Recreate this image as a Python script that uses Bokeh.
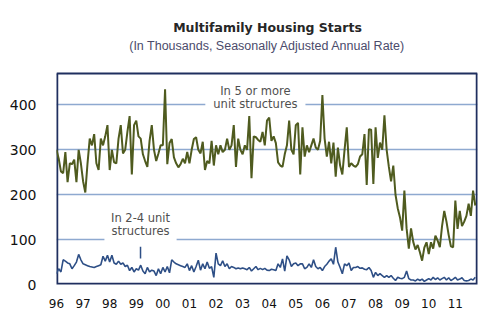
from bokeh.plotting import figure
from bokeh.models import Label, FixedTicker, Range1d, ColumnDataSource
from bokeh.embed import file_html
from bokeh.resources import INLINE

start_year = 1996
five_plus = [
    300, 280, 252, 248, 295, 228, 270, 268, 278, 228, 300, 270,   # 1996
    230, 205, 270, 325, 310, 335, 270, 255, 325, 310, 330, 355,   # 1997
    255, 300, 272, 270, 325, 355, 292, 300, 340, 375, 245, 355,   # 1998
    365, 330, 325, 290, 275, 262, 320, 355, 300, 275, 292, 310,   # 1999
    310, 435, 268, 315, 324, 283, 270, 261, 268, 280, 270, 295,   # 2000
    270, 300, 324, 328, 300, 292, 318, 255, 275, 270, 320, 265,   # 2001
    310, 290, 310, 295, 300, 325, 300, 310, 355, 262, 325, 300,   # 2002
    290, 310, 300, 375, 237, 330, 328, 322, 318, 340, 310, 365,   # 2003
    372, 320, 330, 315, 272, 265, 262, 290, 310, 365, 300, 290,   # 2004
    355, 360, 245, 350, 285, 310, 295, 310, 325, 305, 300, 320,   # 2005
    422, 325, 285, 318, 270, 316, 240, 305, 265, 245, 300, 350,   # 2006
    262, 270, 265, 262, 268, 285, 290, 335, 222, 346, 345, 224,   # 2007
    350, 282, 316, 300, 377, 300, 262, 230, 265, 200, 170, 150,   # 2008
    120, 209, 125, 80, 125, 95, 78, 88, 72, 53, 82, 94,           # 2009
    68, 94, 80, 109, 98, 83, 130, 164, 140, 110, 85, 83,          # 2010
    187, 124, 164, 130, 140, 153, 180, 153, 209, 176,             # 2011
]
two_four = [
    24, 35, 28, 55, 52, 48, 46, 35, 42, 50, 67, 55,
    46, 44, 42, 40, 39, 38, 40, 42, 44, 63, 52, 65,
    50, 65, 48, 45, 52, 45, 48, 40, 43, 31, 38, 28,
    35, 32, 43, 30, 24, 38, 28, 32, 30, 20, 35, 24,
    38, 28, 40, 26, 55, 50, 46, 44, 42, 40, 38, 46,
    31, 42, 28, 40, 54, 32, 46, 35, 50, 36, 40, 16,
    70, 46, 42, 53, 40, 46, 35, 40, 38, 35, 37, 35,
    37, 35, 33, 38, 30, 35, 40, 33, 36, 33, 36, 32,
    31, 34, 33, 31, 46, 38, 57, 30, 64, 55, 40, 46,
    48, 42, 46, 46, 35, 38, 46, 38, 55, 40, 35, 38,
    31, 40, 45, 52, 57, 45, 83, 50, 38, 24, 46, 42,
    48, 31, 38, 38, 40, 36, 37, 34, 33, 38, 31, 16,
    27, 20, 24, 20, 16, 20, 16, 20, 14, 9, 16, 14,
    13, 16, 30, 13, 10, 10, 8, 12, 9, 12, 7, 10,
    13, 10, 16, 11, 15, 10, 13, 16, 10, 15, 9, 12,
    16, 10, 12, 15, 9, 8, 9, 12, 10, 16,
]
year_ticks = list(range(1996, 2012))
year_labels = ["96", "97", "98", "99", "00", "01", "02", "03", "04", "05",
               "06", "07", "08", "09", "10", "11"]
y_ticks = [0, 100, 200, 300, 400]
title = "Multifamily Housing Starts"
subtitle = "(In Thousands, Seasonally Adjusted Annual Rate)"

x = [start_year + i / 12 for i in range(len(five_plus))]

# layout: chart box spans pixel rows 73..284; the frame extends up to row 10
# so that the titles can live inside it
X0, X1 = 1996, 1996 + 190 / 12
Y_TOP_DATA = 470
FRAME_TOP, BOX_TOP, BOX_BOTTOM = 10, 73, 284
y_max = Y_TOP_DATA * (BOX_BOTTOM - FRAME_TOP) / (BOX_BOTTOM - BOX_TOP)


def py(pixel_row):
    return Y_TOP_DATA * (BOX_BOTTOM - pixel_row) / (BOX_BOTTOM - BOX_TOP)


FONT = "DejaVu Sans"
p = figure(width=500, height=322, output_backend="svg", toolbar_location=None,
           x_range=Range1d(X0, X1), y_range=Range1d(0, y_max),
           min_border_left=56, min_border_right=23, min_border_top=FRAME_TOP,
           min_border_bottom=38)
p.background_fill_color = "white"
p.border_fill_color = "white"
p.outline_line_color = None

p.xaxis.ticker = FixedTicker(ticks=year_ticks)
p.xaxis.major_label_overrides = {t: l for t, l in zip(year_ticks, year_labels)}
p.yaxis.ticker = FixedTicker(ticks=y_ticks)
for ax in (p.xaxis, p.yaxis):
    ax.axis_line_color = None
    ax.major_tick_line_color = None
    ax.minor_tick_line_color = None
    ax.major_label_text_font = FONT
    ax.major_label_text_color = "#111111"
p.xaxis.major_label_text_font_size = "12px"
p.yaxis.major_label_text_font_size = "14px"
p.xaxis.major_label_standoff = 8
p.yaxis.major_label_standoff = 14

p.xgrid.grid_line_color = None
p.ygrid.grid_line_color = "#8ea9d0"
p.ygrid.grid_line_width = 1.5

# chart box border (three sides sit on the frame edge and get half clipped)
NAVY = "#1f2f5f"
p.multi_line(xs=[[X0, X0, X1, X1]], ys=[[Y_TOP_DATA, 0, 0, Y_TOP_DATA]],
             line_color=NAVY, line_width=3.5)
p.line(x=[X0, X1], y=[Y_TOP_DATA, Y_TOP_DATA], line_color=NAVY, line_width=1.8)

p.line(x, five_plus, line_color="#4f5b1f", line_width=2)
p.line(x, two_four, line_color="#2e4f86", line_width=1.6)

# annotations inside plot
lab_kw = dict(text_font=FONT, text_font_size="11.5px", text_color="#505050",
              text_align="center", text_baseline="middle")
p.add_layout(Label(x=2003.48, y=400, text="unit structures",
                   background_fill_color="white",
                   padding=dict(left=8, right=8, top=2, bottom=3), **lab_kw))
p.add_layout(Label(x=2003.48, y=431, text="In 5 or more", **lab_kw))
p.add_layout(Label(x=1999.16, y=116, text="structures",
                   background_fill_color="white",
                   padding=dict(left=7, right=7, top=2, bottom=5), **lab_kw))
p.add_layout(Label(x=1999.16, y=149, text="In 2-4 unit", **lab_kw))
seg = ColumnDataSource(dict(x0=[1999.16], y0=[58], x1=[1999.16], y1=[84]))
p.segment("x0", "y0", "x1", "y1", source=seg, line_color="#2e4f86", line_width=1.5)

# titles
x_mid = X0 + (267 - 56) / (477 - 56) * (X1 - X0)
p.add_layout(Label(x=x_mid, y=py(27), text=title, text_font=FONT,
                   text_font_size="12.5px", text_font_style="bold",
                   text_color="#262626", text_align="center",
                   text_baseline="middle"))
p.add_layout(Label(x=x_mid, y=py(45), text=subtitle,
                   text_font="Liberation Sans", text_font_size="12.5px",
                   text_color="#4b4b6b", text_align="center",
                   text_baseline="middle"))

open("out.html", "w").write(file_html(p, INLINE))
